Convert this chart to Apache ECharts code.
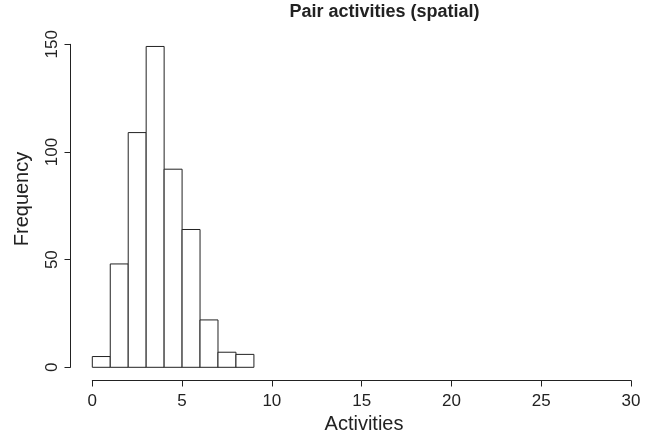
<!DOCTYPE html>
<html><head><meta charset="utf-8">
<script src="https://cdn.jsdelivr.net/npm/echarts@6/dist/echarts.min.js"></script>
<style>html,body{margin:0;padding:0;background:#fff}#c{width:654px;height:439px}</style>
</head><body><div id="c"></div>
<script>
const binStarts = [0, 1, 2, 3, 4, 5, 6, 7, 8];
const binEnds   = [1, 2, 3, 4, 5, 6, 7, 8, 9];
const counts    = [5, 48, 109, 149, 92, 64, 22, 7, 6];
const xTicks    = [0, 5, 10, 15, 20, 25, 30];
const yTicks    = [0, 50, 100, 150];
const titleText = 'Pair activities (spatial)';
const xName = 'Activities';
const yName = 'Frequency';

const FONT = '"Liberation Sans", Arial, Helvetica, sans-serif';
const INK = '#222';
const chart = echarts.init(document.getElementById('c'), null, {renderer: 'canvas'});
const data = binStarts.map((s, i) => [s, binEnds[i], counts[i]]);

chart.setOption({
  animation: false,
  backgroundColor: '#fff',
  grid: {left: 92.3, right: 23, top: 44.3, bottom: 71.7},
  xAxis: {
    type: 'value', min: xTicks[0], max: xTicks[xTicks.length - 1], interval: 5,
    position: 'bottom', offset: 13.2,
    splitLine: {show: false},
    axisLine: {show: true, onZero: false, lineStyle: {color: INK, width: 1}},
    axisTick: {show: true, inside: false, length: 6, lineStyle: {color: INK}},
    axisLabel: {color: INK, fontSize: 17, fontFamily: FONT, margin: 12}
  },
  yAxis: {
    type: 'value', min: yTicks[0], max: yTicks[yTicks.length - 1], interval: 50,
    position: 'left', offset: 21.8,
    splitLine: {show: false},
    axisLine: {show: true, onZero: false, lineStyle: {color: INK, width: 1}},
    axisTick: {show: true, inside: false, length: 6, lineStyle: {color: INK}},
    axisLabel: {color: INK, fontSize: 17, fontFamily: FONT, margin: 10, rotate: 90}
  },
  graphic: [
    {type: 'text', x: 384.5, y: 12, style: {text: titleText, fill: INK, font: 'bold 18px ' + FONT, textAlign: 'center', textVerticalAlign: 'middle'}},
    {type: 'text', x: 364, y: 424, style: {text: xName, fill: INK, font: '20px ' + FONT, textAlign: 'center', textVerticalAlign: 'middle'}},
    {type: 'text', x: 22, y: 199, rotation: Math.PI / 2, style: {text: yName, fill: INK, font: '20px ' + FONT, textAlign: 'center', textVerticalAlign: 'middle'}}
  ],
  series: [{
    type: 'custom',
    data: data,
    encode: {x: [0, 1], y: 2},
    renderItem: function (params, api) {
      const p0 = api.coord([api.value(0), api.value(2)]);
      const p1 = api.coord([api.value(1), 0]);
      return {
        type: 'rect',
        shape: {x: p0[0], y: p0[1], width: p1[0] - p0[0], height: p1[1] - p0[1]},
        style: {fill: '#fff', stroke: INK, lineWidth: 1}
      };
    }
  }]
});
</script></body></html>
